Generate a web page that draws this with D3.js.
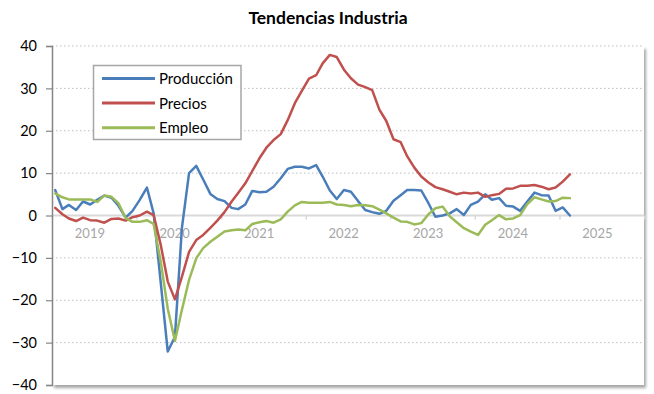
<!DOCTYPE html>
<html>
<head>
<meta charset="utf-8">
<script src="https://cdn.jsdelivr.net/npm/d3@7"></script>
<style>
  html, body { margin: 0; padding: 0; background: #fff; }
  svg { display: block; font-family: Lato, "Open Sans", "Liberation Sans", sans-serif; }
</style>
</head>
<body>
<svg id="chart" width="654" height="394"></svg>
<script>
// Monthly series, January 2019 onwards (year-on-year %, trend)
const startMonth = "2019-01";
const yearLabels = ["2019", "2020", "2021", "2022", "2023", "2024", "2025"];
const yTicks = [40, 30, 20, 10, 0, -10, -20, -30, -40];
const seriesNames = ["Producción", "Precios", "Empleo"];
const seriesColors = ["#4a7ebb", "#c0504d", "#9bbb59"];

const produccion = [
  6.0, 1.5, 2.5, 1.3, 3.3, 2.6, 3.7, 4.7, 4.2, 2.3, -0.5, 1.1,
  3.7, 6.6, 0.5, -16, -32.1, -28.6, -3, 10, 11.7, 8.5, 5.1, 3.9,
  3.4, 1.8, 1.5, 2.6, 5.8, 5.5, 5.6, 6.8, 8.8, 11.0, 11.5, 11.5,
  11.1, 11.9, 9.2, 5.9, 3.9, 6.0, 5.6, 3.4, 1.3, 0.8, 0.4, 1.1,
  3.5, 4.8, 6.0, 6.0, 5.9, 2.9, -0.3, 0.0, 0.5, 1.5, 0.1, 2.5,
  3.3, 5.0, 3.7, 4.1, 2.3, 2.1, 1.1, 3.3, 5.4, 4.8, 4.7, 1.1,
  1.9, 0.0
];
const precios = [
  1.8, 0.3, -0.7, -1.3, -0.5, -1.1, -1.2, -1.7, -0.8, -0.7, -1.2, -0.4,
  0.0, 0.9, 0.1, -7, -15.6, -19.8, -14.5, -8.6, -5.8, -4.6, -2.9, -1.2,
  0.8, 3.3, 5.3, 7.6, 10.5, 13.5, 16.0, 17.8, 19.2, 22.5, 26.5, 29.4,
  32.3, 33.1, 35.9, 37.9, 37.4, 34.4, 32.4, 30.9, 30.3, 29.6, 25.0, 22.3,
  18.0, 17.3, 14.0, 11.3, 9.2, 7.8, 6.7, 6.2, 5.6, 5.0, 5.4, 5.2,
  5.4, 4.4, 4.8, 5.1, 6.3, 6.4, 7.0, 7.0, 7.2, 6.8, 6.2, 6.6,
  8.0, 9.7
];
const empleo = [
  5.2, 4.3, 3.8, 3.8, 3.8, 3.8, 3.2, 4.7, 4.4, 2.9, -0.6, -1.5,
  -1.5, -1.1, -2.0, -11, -22, -29.6, -22.3, -15.2, -10.1, -7.7, -6.2, -5.0,
  -3.8, -3.5, -3.3, -3.5, -2.0, -1.6, -1.3, -1.7, -0.9, 0.9, 2.4, 3.2,
  3.0, 3.0, 3.0, 3.2, 2.6, 2.5, 2.2, 2.5, 2.4, 2.2, 1.4, 0.5,
  -0.5, -1.4, -1.5, -2.1, -1.8, 0.3, 1.7, 2.1, -0.2, -1.6, -3.0, -3.8,
  -4.6, -2.2, -1.1, 0.1, -0.9, -0.7, 0.1, 2.7, 4.3, 3.8, 3.3, 3.4,
  4.2, 4.1
];

const svg = d3.select("#chart");
const plot = { left: 52, right: 644, top: 46, bottom: 385 };

const parseMonth = d3.timeParse("%Y-%m");
const start = parseMonth(startMonth);
const months = d3.range(produccion.length).map(i => d3.timeMonth.offset(start, i));
const midMonth = d => new Date(d.getFullYear(), d.getMonth(), 15);

const yearStart = d3.timeParse("%Y")(yearLabels[0]);
const yearEnd = d3.timeYear.offset(d3.timeParse("%Y")(yearLabels[yearLabels.length - 1]), 1);

const x = d3.scaleTime().domain([yearStart, yearEnd]).range([plot.left, plot.right]);
const y = d3.scaleLinear().domain([-40, 40]).range([plot.bottom, plot.top]);

// Soft shadow under the plot area
const defs = svg.append("defs");
const shadow = defs.append("filter").attr("id", "plotShadow")
  .attr("x", "-5%").attr("y", "-5%").attr("width", "110%").attr("height", "110%");
shadow.append("feDropShadow").attr("dx", 2).attr("dy", 3).attr("stdDeviation", 1.5)
  .attr("flood-color", "#000").attr("flood-opacity", 0.35);

svg.append("rect")
  .attr("x", plot.left).attr("y", plot.top)
  .attr("width", plot.right - plot.left).attr("height", plot.bottom - plot.top)
  .attr("fill", "#fff").attr("filter", "url(#plotShadow)");

// Title
svg.append("text")
  .attr("x", 328).attr("y", 24)
  .attr("text-anchor", "middle")
  .attr("font-size", 17.5).attr("font-weight", "bold").attr("fill", "#000")
  .text("Tendencias Industria");

// Dotted horizontal gridlines
svg.append("g")
  .selectAll("line")
  .data(yTicks.filter(v => v !== 0 && v !== -40))
  .join("line")
  .attr("x1", plot.left).attr("x2", plot.right)
  .attr("y1", d => y(d)).attr("y2", d => y(d))
  .attr("stroke", "#bfbfbf").attr("stroke-width", 1)
  .attr("stroke-dasharray", "1.5,2.5");

// Zero line with year ticks and labels
svg.append("line")
  .attr("x1", plot.left).attr("x2", plot.right)
  .attr("y1", y(0)).attr("y2", y(0))
  .attr("stroke", "#d9d9d9").attr("stroke-width", 2);

const xAxis = d3.axisBottom(x)
  .ticks(d3.timeYear.every(1))
  .tickSize(4)
  .tickFormat("");
const gx = svg.append("g").attr("transform", `translate(0,${y(0)})`).call(xAxis);
gx.select(".domain").remove();
gx.selectAll(".tick line").attr("stroke", "#d9d9d9").attr("stroke-width", 1.5);

svg.append("g")
  .selectAll("text")
  .data(yearLabels)
  .join("text")
  .attr("x", d => x(new Date(+d, 6, 1)) - 4)
  .attr("y", y(0) + 22)
  .attr("text-anchor", "middle")
  .attr("font-size", 13).attr("fill", "#a6a6a6")
  .text(d => d);

// Y axis
const yAxis = d3.axisLeft(y).tickValues(yTicks).tickSize(6).tickPadding(9);
const gy = svg.append("g").attr("transform", `translate(${plot.left},0)`).call(yAxis);
gy.select(".domain").attr("stroke", "#868686").attr("stroke-width", 1.5);
gy.selectAll(".tick line").attr("stroke", "#868686").attr("stroke-width", 1.2);
gy.selectAll(".tick text")
  .attr("font-size", 14.5).attr("fill", "#000")
  .attr("font-family", "Lato, 'Open Sans', sans-serif");

// Lines
const line = d3.line()
  .x((d, i) => x(midMonth(months[i])))
  .y(d => y(d));

const seriesData = [produccion, precios, empleo];
svg.append("g")
  .selectAll("path")
  .data(seriesData)
  .join("path")
  .attr("d", d => line(d))
  .attr("fill", "none")
  .attr("stroke", (d, i) => seriesColors[i])
  .attr("stroke-width", 2.5)
  .attr("stroke-linejoin", "round")
  .attr("stroke-linecap", "round");

// Legend
const legend = svg.append("g");
legend.append("rect")
  .attr("x", 93.5).attr("y", 65.5).attr("width", 147.5).attr("height", 74)
  .attr("fill", "#fff").attr("stroke", "#a6a6a6").attr("stroke-width", 1.5);
const items = legend.selectAll("g.item")
  .data(seriesNames)
  .join("g").attr("class", "item")
  .attr("transform", (d, i) => `translate(0,${78.5 + i * 24.6})`);
items.append("line")
  .attr("x1", 102).attr("x2", 155)
  .attr("stroke", (d, i) => seriesColors[i]).attr("stroke-width", 3);
items.append("text")
  .attr("x", 159).attr("y", 5.5)
  .attr("font-size", 15).attr("fill", "#000")
  .text(d => d);
</script>
</body>
</html>
